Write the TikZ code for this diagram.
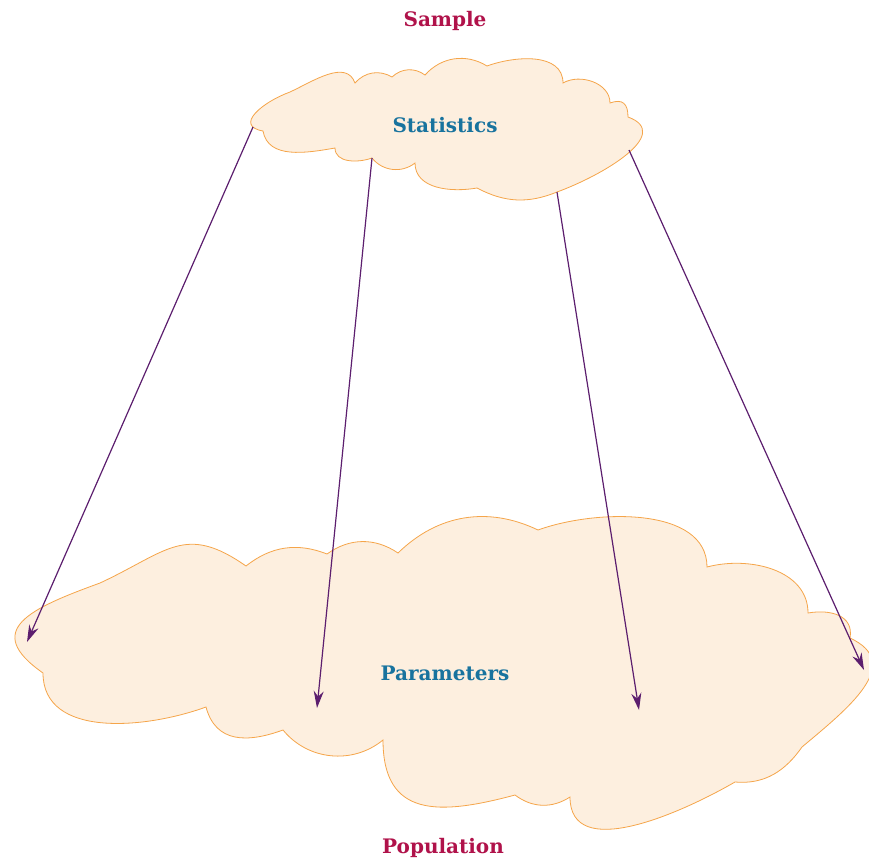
\documentclass[tikz,border=0pt]{standalone}
\usepackage{fontspec}
\setmainfont{DejaVu Serif}
\usetikzlibrary{arrows.meta}

\definecolor{titlered}{HTML}{B0124A}
\definecolor{cloudtextblue}{HTML}{18739E}
\definecolor{cloudfill}{HTML}{FDEFDF}
\definecolor{cloudline}{HTML}{F5A54A}
\definecolor{arrowpurple}{HTML}{5C1E6E}

\begin{document}
\begin{tikzpicture}[x=1pt,y=1pt,
  cloudpath/.style={fill=cloudfill,draw=cloudline,line width=0.8pt},
  titletext/.style={text=titlered,anchor=base,font=\fontsize{20}{24}\selectfont\bfseries},
  cloudtext/.style={text=cloudtextblue,anchor=base,font=\fontsize{20}{24}\selectfont\bfseries},
  drawarrow/.style={draw=arrowpurple,line width=1.2pt,-{Stealth[length=17pt,width=10pt]}}]
\useasboundingbox (0,-860) rectangle (869,0);

% sample cloud
\draw[cloudpath] (263,-131) to[out=170,in=200,looseness=1.6] (290,-92)
  to[out=25,in=110] (355,-83)
  to[bend left=40] (392,-77)
  to[bend left=40] (425,-75)
  to[bend left=40] (487,-66)
  to[out=20,in=90] (563,-83)
  to[out=30,in=90] (610,-103)
  to[out=20,in=90,looseness=1.5] (628,-117)
  to[out=-20,in=20,looseness=1.2] (557,-192)
  to[bend left=25] (477,-188)
  to[out=-170,in=-90] (415,-163)
  to[bend left=45] (372,-158)
  to[out=-160,in=-90] (335,-148)
  to[out=-170,in=-80] (263,-131) -- cycle;

% population cloud
\draw[cloudpath] (43,-673) to[out=145,in=200,looseness=1.8] (100,-583)
  to[out=25,in=145,looseness=1.3] (246,-566)
  to[bend left=30] (327,-554)
  to[bend left=35] (398,-553)
  to[bend left=35] (538,-530)
  to[out=20,in=90,looseness=0.9] (707,-567)
  to[out=15,in=90] (808,-613)
  to[out=10,in=80,looseness=1.2] (850,-638)
  to[out=-25,in=40,looseness=1.3] (802,-747)
  to[out=-125,in=-5] (735,-782)
  to[out=-150,in=-90] (570,-797)
  to[bend left=35] (515,-795)
  to[out=-165,in=-90,looseness=1.4] (383,-740)
  to[bend left=45] (283,-730)
  to[out=-160,in=-75,looseness=1.2] (206,-707)
  to[out=-160,in=-90] (43,-673) -- cycle;

\node[titletext] (sample) at (445,-26) {Sample};
\node[cloudtext] (stats) at (445,-132) {Statistics};
\node[cloudtext] (params) at (445,-680) {Parameters};
\node[titletext] (population) at (443,-853) {Population};

\coordinate (from1) at (253,-127);
\coordinate (from2) at (372,-158);
\coordinate (from3) at (557,-192);
\coordinate (from4) at (629,-150);
\coordinate (to1) at (27,-642);
\coordinate (to2) at (317,-708);
\coordinate (to3) at (639,-710);
\coordinate (to4) at (864,-670);

\draw[drawarrow] (from1) -- (to1);
\draw[drawarrow] (from2) -- (to2);
\draw[drawarrow] (from3) -- (to3);
\draw[drawarrow] (from4) -- (to4);
\end{tikzpicture}
\end{document}
